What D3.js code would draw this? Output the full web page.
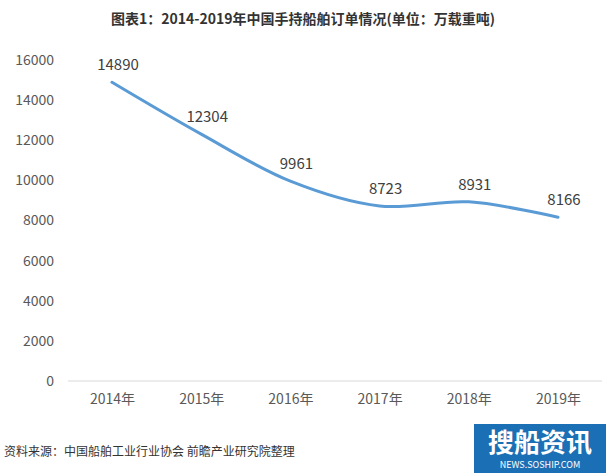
<!DOCTYPE html>
<html><head><meta charset="utf-8">
<script src="https://cdn.jsdelivr.net/npm/d3@7"></script>
<style>body{margin:0;background:#fff}</style>
</head><body>
<svg id="c" width="606" height="473"></svg>
<script>
const years = ['2014年', '2015年', '2016年', '2017年', '2018年', '2019年'];
const orders = [14890, 12304, 9961, 8723, 8931, 8166];
const yTicks = [0, 2000, 4000, 6000, 8000, 10000, 12000, 14000, 16000];

const svg = d3.select('#c');
const font = '"Microsoft YaHei","Noto Sans CJK SC",sans-serif';

svg.append('text').attr('x', 303).attr('y', 24).attr('text-anchor', 'middle')
  .attr('font-family', font).attr('font-size', 14).attr('font-weight', 'bold').attr('fill', '#333')
  .text('图表1：2014-2019年中国手持船舶订单情况(单位：万载重吨)');

const x = d3.scalePoint().domain(years).range([112, 558]);
const y = d3.scaleLinear().domain([0, 16000]).range([381, 60]);

const yAxis = svg.append('g').attr('transform', 'translate(60,0)')
  .call(d3.axisLeft(y).tickValues(yTicks).tickSize(0).tickFormat(d3.format('d')));
yAxis.select('.domain').remove();
yAxis.selectAll('text').attr('font-size', 14).attr('fill', '#595959').attr('font-family', font).attr('x', -6);

svg.append('line').attr('x1', 68).attr('x2', 602).attr('y1', 381).attr('y2', 381)
  .attr('stroke', '#d9d9d9');

const xAxis = svg.append('g').attr('transform', 'translate(0,381)')
  .call(d3.axisBottom(x).tickSize(0));
xAxis.select('.domain').remove();
xAxis.selectAll('text').attr('font-size', 14).attr('fill', '#595959').attr('font-family', font).attr('dy', 20);

const line = d3.line().x((d, i) => x(years[i])).y(d => y(d)).curve(d3.curveCatmullRom.alpha(0.5));
svg.append('path').datum(orders).attr('d', line).attr('fill', 'none')
  .attr('stroke', '#5b9bd5').attr('stroke-width', 3).attr('stroke-linecap', 'round');

svg.selectAll('.lbl').data(orders).join('text')
  .attr('x', (d, i) => x(years[i]) + 6).attr('y', d => y(d) - 12)
  .attr('text-anchor', 'middle').attr('font-size', 15).attr('fill', '#404040').attr('font-family', font)
  .text(d => d);

svg.append('text').attr('x', 4).attr('y', 456).attr('font-size', 12).attr('fill', '#333')
  .attr('font-family', font).text('资料来源：中国船舶工业行业协会 前瞻产业研究院整理');

svg.append('rect').attr('x', 474).attr('y', 424).attr('width', 132).attr('height', 49).attr('fill', '#1b6fb5');
svg.append('text').attr('x', 540).attr('y', 452).attr('text-anchor', 'middle').attr('font-size', 26)
  .attr('font-weight', 'bold').attr('fill', '#fff').attr('font-family', font).text('搜船资讯');
svg.append('text').attr('x', 540).attr('y', 468).attr('text-anchor', 'middle').attr('font-size', 9)
  .attr('fill', '#fff').attr('font-family', font).text('NEWS.SOSHIP.COM');
</script>
</body></html>
